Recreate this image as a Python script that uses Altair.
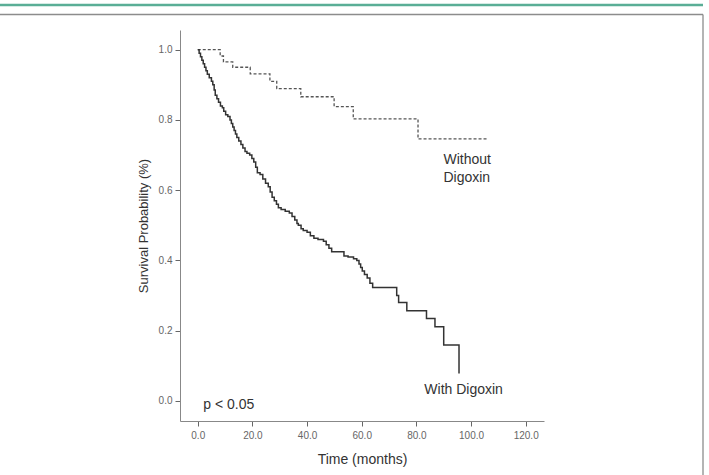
import altair as alt
import pandas as pd

# ---- data ----
with_t = [0, 0.5, 1.0, 1.5, 2.0, 2.5, 3.0, 3.5, 4.2, 5.0, 5.5, 6.0, 6.4, 7.0, 7.6, 8.3,
          9.0, 9.5, 10.2, 11.0, 11.8, 12.3, 12.8, 13.3, 13.8, 14.3, 15.0, 15.8, 16.5,
          17.3, 18.0, 19.0, 19.8, 20.5, 21.2, 21.8, 22.8, 23.8, 24.8, 25.8, 26.5, 27.2,
          28.0, 28.8, 29.5, 30.5, 32.0, 33.5, 34.5, 35.5, 36.3, 36.8, 37.8, 38.6, 40.0,
          41.2, 42.5, 44.0, 46.0, 47.0, 48.0, 49.0, 53.5, 55.0, 57.0, 58.2, 59.0, 59.6,
          60.2, 61.0, 62.0, 63.0, 64.0, 72.8, 73.5, 76.5, 83.7, 86.8, 90.0, 95.6]
with_s = [1.0, 0.99, 0.98, 0.97, 0.96, 0.95, 0.94, 0.93, 0.92, 0.91, 0.90, 0.885, 0.87,
          0.86, 0.85, 0.84, 0.835, 0.825, 0.815, 0.81, 0.80, 0.79, 0.78, 0.77, 0.76, 0.75,
          0.74, 0.73, 0.72, 0.71, 0.705, 0.70, 0.69, 0.68, 0.665, 0.65, 0.645, 0.632, 0.62,
          0.61, 0.595, 0.58, 0.57, 0.56, 0.55, 0.545, 0.54, 0.535, 0.525, 0.515, 0.505,
          0.50, 0.49, 0.485, 0.48, 0.47, 0.463, 0.46, 0.455, 0.445, 0.435, 0.425, 0.413,
          0.41, 0.405, 0.40, 0.39, 0.38, 0.37, 0.36, 0.35, 0.335, 0.323, 0.30, 0.28,
          0.257, 0.235, 0.211, 0.159, 0.078]

without_t = [0, 8.2, 9.4, 12.8, 19.2, 26.4, 28.9, 37.7, 49.9, 56.9, 80.6, 106.0]
without_s = [1.0, 0.982, 0.965, 0.950, 0.931, 0.910, 0.889, 0.866, 0.838, 0.803, 0.746, 0.746]

x_ticks = [0, 20, 40, 60, 80, 100, 120]
y_ticks = [0.0, 0.2, 0.4, 0.6, 0.8, 1.0]

ann_text = ["Without", "Digoxin", "With Digoxin", "p < 0.05"]
ann_t = [89.9, 89.9, 82.9, 2.0]
ann_s = [0.686, 0.634, 0.030, -0.012]

df_with = pd.DataFrame({"t": with_t, "s": with_s})
df_without = pd.DataFrame({"t": without_t, "s": without_s})
df_ann = pd.DataFrame({"text": ann_text, "t": ann_t, "s": ann_s})

W, H = 364, 391
LEFT, TOP = 180, 30
FONT = "Liberation Sans"

xs = alt.Scale(domain=[-6.5, 126.7], nice=False, zero=False)
ys = alt.Scale(domain=[-0.057, 1.056], nice=False, zero=False)

x_axis = alt.Axis(values=x_ticks, format=".1f", title="Time (months)", grid=False,
                  tickSize=5, labelPadding=4, titlePadding=12, labelFontSize=10,
                  titleFontSize=14, labelColor="#666", titleColor="#333",
                  domainColor="#888", tickColor="#666", labelFont=FONT, titleFont=FONT,
                  titleFontWeight="normal")
y_axis = alt.Axis(values=y_ticks, format=".1f", title="Survival Probability (%)", grid=False,
                  tickSize=5, labelPadding=3, titlePadding=8, labelFontSize=10,
                  titleFontSize=13, labelColor="#666", titleColor="#333",
                  domainColor="#888", tickColor="#666", labelFont=FONT, titleFont=FONT,
                  titleFontWeight="normal")

without_line = alt.Chart(df_without).mark_line(
    interpolate="step-after", color="#555", strokeWidth=1.3, strokeDash=[3, 2]
).encode(x=alt.X("t:Q", scale=xs, axis=x_axis), y=alt.Y("s:Q", scale=ys, axis=y_axis))

with_line = alt.Chart(df_with).mark_line(
    interpolate="step-after", color="#333", strokeWidth=1.5
).encode(x=alt.X("t:Q", scale=xs), y=alt.Y("s:Q", scale=ys))

ann = alt.Chart(df_ann).mark_text(
    align="left", baseline="middle", fontSize=14, font=FONT, color="#333"
).encode(x=alt.X("t:Q", scale=xs), y=alt.Y("s:Q", scale=ys), text="text:N")

dummy = alt.Data(values=[{"a": 1}])
teal = alt.Chart(dummy).mark_rule(color="#5aae96", strokeWidth=2.5).encode(
    x=alt.value(-LEFT), x2=alt.value(703 - LEFT), y=alt.value(5 - TOP))
frame_top = alt.Chart(dummy).mark_rule(color="#8c8c8c", strokeWidth=1.3).encode(
    x=alt.value(-LEFT), x2=alt.value(703 - LEFT), y=alt.value(14.5 - TOP))
frame_right = alt.Chart(dummy).mark_rule(color="#8c8c8c", strokeWidth=1.3).encode(
    x=alt.value(703 - LEFT), y=alt.value(14.5 - TOP), y2=alt.value(480 - TOP))

chart = alt.layer(teal, frame_top, frame_right, without_line, with_line, ann).properties(
    width=W, height=H,
    background="white",
    autosize=alt.AutoSizeParams(type="none"),
    padding={"left": LEFT, "top": TOP, "right": 709 - LEFT - W, "bottom": 475 - TOP - H},
).configure_view(strokeWidth=0, stroke=None)

chart.save("out.html", embed_options={"renderer": "svg", "actions": False})
